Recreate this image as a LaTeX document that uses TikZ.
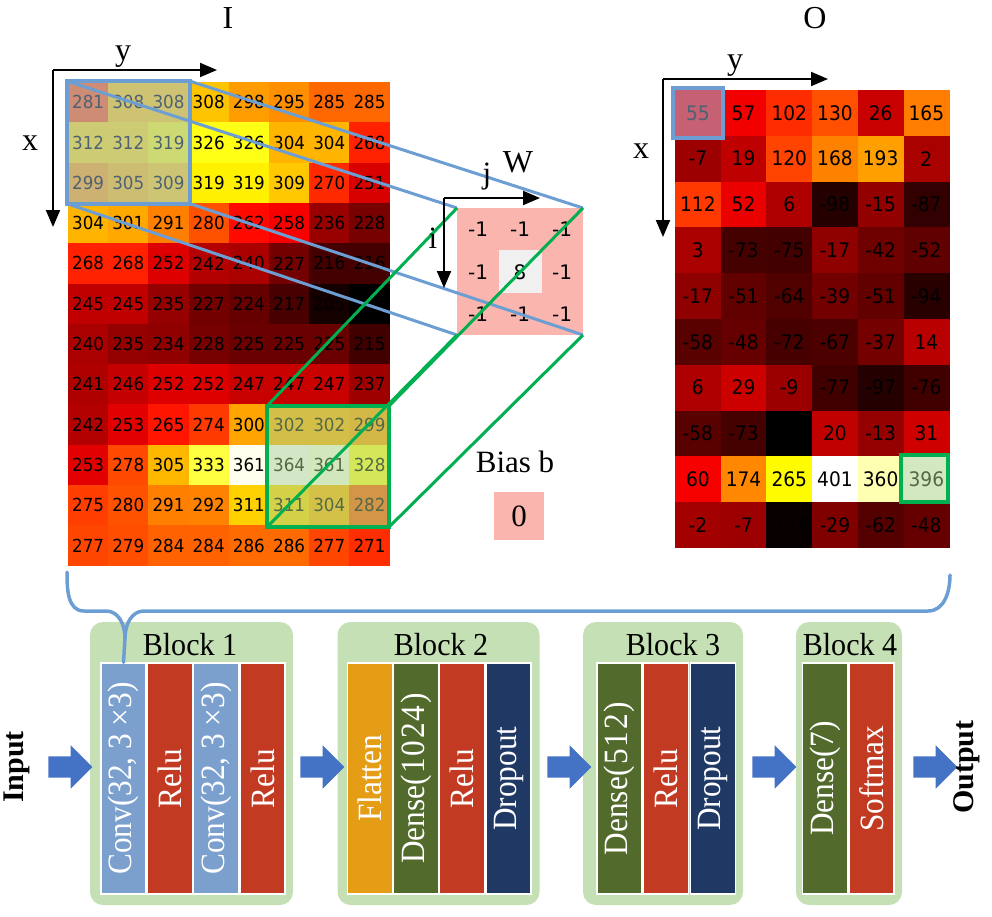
\documentclass[tikz,border=0pt]{standalone}
\usepackage{graphicx}
\usepackage{fontspec}
\setmainfont{Liberation Serif}
\newfontfamily\numfont{DejaVu Sans}
\usetikzlibrary{arrows.meta,shapes.arrows}
\definecolor{lblue}{RGB}{108,158,212}
\definecolor{ovblue}{RGB}{157,195,230}
\definecolor{lgreen}{RGB}{0,176,80}
\definecolor{ovgreen}{RGB}{169,209,142}
\definecolor{wpink}{RGB}{249,181,174}
\definecolor{wgray}{RGB}{240,240,240}
\definecolor{blockbg}{RGB}{197,224,180}
\definecolor{convc}{RGB}{124,160,206}
\definecolor{reluc}{RGB}{194,58,34}
\definecolor{flatc}{RGB}{228,157,20}
\definecolor{densec}{RGB}{82,106,44}
\definecolor{dropc}{RGB}{31,56,100}
\definecolor{arrowc}{RGB}{68,114,196}
\newcommand\hotcolor[3]{%
 \pgfmathsetmacro\hotT{max(0,min(1,((#1)-(#2))/((#3)-(#2))))}%
 \pgfmathsetmacro\hotR{min(1,\hotT/0.365079)}%
 \pgfmathsetmacro\hotG{max(0,min(1,(\hotT-0.365079)/0.380953))}%
 \pgfmathsetmacro\hotB{max(0,min(1,(\hotT-0.746032)/0.253968))}%
 \definecolor{hc}{rgb}{\hotR,\hotG,\hotB}}
\newcommand\lyr[1]{\scalebox{0.92}[1]{#1}}
\newcommand\nsq[1]{\scalebox{0.93}[1]{#1}}
\newcommand\tsq[1]{\scalebox{0.94}[1]{#1}}
\begin{document}
\begin{tikzpicture}[x=1pt,y=-1pt,
  numI/.style={font=\numfont\fontsize{18}{18}\selectfont, inner sep=0pt},
  numO/.style={font=\numfont\fontsize{20}{20}\selectfont, inner sep=0pt},
  numW/.style={font=\numfont\fontsize{20}{20}\selectfont, inner sep=0pt},
  lbl/.style={font=\fontsize{32}{32}\selectfont, inner sep=0pt, anchor=base},
  slbl/.style={font=\fontsize{31}{31}\selectfont, inner sep=0pt, anchor=base},
  axisarrow/.style={line width=2pt, -{Triangle[length=17pt,width=14pt]}},
  bline/.style={draw=lblue, line width=3pt},
  gline/.style={draw=lgreen, line width=3pt},
  selbox/.style={inner sep=0pt, outer sep=0pt, line width=4pt, fill opacity=0.5, anchor=north west},
  blockbox/.style={fill=blockbg, rounded corners=13pt, inner sep=0pt, outer sep=0pt, anchor=north west, minimum height=283pt},
  layer/.style={draw=white, line width=1.2pt, rotate=90, minimum width=231pt, minimum height=45pt, inner sep=0pt, text=white, font=\fontsize{34}{34}\selectfont},
  btitle/.style={font=\fontsize{32}{32}\selectfont, inner sep=0pt, anchor=base},
  barrow/.style={single arrow, single arrow head extend=11pt, single arrow head indent=0pt, minimum height=44pt, inner xsep=0pt, inner ysep=10.5pt, fill=arrowc, draw=none},
  brace/.style={draw=lblue, line width=3.5pt, line cap=round}
]
\useasboundingbox (0,0) rectangle (992,916);

% ---------- matrix I ----------
\foreach \rowvals [count=\r from 0] in {
 {281,308,308,308,298,295,285,285},
 {312,312,319,326,326,304,304,268},
 {299,305,309,319,319,309,270,251},
 {304,301,291,280,262,258,236,228},
 {268,268,252,242,240,227,216,216},
 {245,245,235,227,224,217,205,190},
 {240,235,234,228,225,225,225,215},
 {241,246,252,252,247,247,247,237},
 {242,253,265,274,300,302,302,299},
 {253,278,305,333,361,364,361,328},
 {275,280,291,292,311,311,304,282},
 {277,279,284,284,286,286,277,271}} {
  \foreach \v [count=\c from 0] in \rowvals {
    \hotcolor{\v}{200}{364}
    \fill[hc] ({68+\c*40.2},{82+\r*40.3}) rectangle ++(40.6,40.7);
    \ifnum\v<200\relax\else
      \node[numI] (I-\r-\c) at ({68+(\c+0.5)*40.2},{82+(\r+0.5)*40.3}) {\nsq{\v}};
    \fi
  }
}

% ---------- matrix O ----------
\foreach \rowvals [count=\r from 0] in {
 {55,57,102,130,26,165},
 {-7,19,120,168,193,2},
 {112,52,6,-98,-15,-87},
 {3,-73,-75,-17,-42,-52},
 {-17,-51,-64,-39,-51,-94},
 {-58,-48,-72,-67,-37,14},
 {6,29,-9,-77,-97,-76},
 {-58,-73,-125,20,-13,31},
 {60,174,265,401,360,396},
 {-2,-7,-119,-29,-62,-48}} {
  \foreach \v [count=\c from 0] in \rowvals {
    \hotcolor{\v}{-125}{401}
    \fill[hc] ({675+\c*45.7},{90+\r*45.8}) rectangle ++(46.1,46.2);
    \node[numO] (O-\r-\c) at ({675+(\c+0.5)*45.7},{90+(\r+0.5)*45.8}) {\nsq{\v}};
  }
}

% selection boxes
\node[selbox, draw=lblue, fill=ovblue, minimum width=123pt, minimum height=122.5pt] (bI) at (66.5,81) {};
\node[selbox, draw=lgreen, fill=ovgreen, minimum width=122pt, minimum height=121pt] (gI) at (267,406) {};
\node[selbox, draw=lblue, fill=ovblue, minimum width=50pt, minimum height=50pt] (bO) at (673,88) {};
\node[selbox, draw=lgreen, fill=ovgreen, minimum width=47pt, minimum height=47pt] (gO) at (901,455) {};

% ---------- kernel W ----------
\node[fill=wpink, inner sep=0pt, outer sep=0pt, minimum width=126pt, minimum height=127pt, anchor=north west] (W) at (457,208) {};
\node[fill=wgray, inner sep=0pt, minimum width=43pt, minimum height=43pt] (Wc) at (520.5,271.5) {};
\foreach \wv [count=\k from 0] in {-1,-1,-1,-1,8,-1,-1,-1,-1} {
  \pgfmathtruncatemacro\wr{int(\k/3)}
  \pgfmathtruncatemacro\wc{mod(\k,3)}
  \node[numW] (W-\k) at ({478+\wc*42},{229.5+\wr*42.3}) {\wv};
}

% connector lines
\draw[bline] (bI.north west) -- (W.north west);
\draw[bline] (bI.north east) -- (W.north east);
\draw[bline] (bI.south west) -- (W.south west);
\draw[bline] (bI.south east) -- (W.south east);
\draw[gline] (gI.north west) -- (W.north west);
\draw[gline] (gI.north east) -- (W.north east);
\draw[gline] (gI.south west) -- (W.south west);
\draw[gline] (gI.south east) -- (W.south east);

% axes
\coordinate (Io) at (53,70); \coordinate (Iy) at (217,70); \coordinate (Ix) at (53,227);
\draw[axisarrow] (Io) -- (Iy);
\draw[axisarrow] (Io) -- (Ix);
\coordinate (Oo) at (663,79); \coordinate (Oy) at (828,79); \coordinate (Ox) at (663,237);
\draw[axisarrow] (Oo) -- (Oy);
\draw[axisarrow] (Oo) -- (Ox);
\coordinate (Wo) at (444,198); \coordinate (Wj) at (540,198); \coordinate (Wi) at (444,288);
\draw[axisarrow] (Wo) -- (Wj);
\draw[axisarrow] (Wo) -- (Wi);

% labels
\node[lbl] (labI) at (228,28) {I};
\node[lbl] (labIy) at (123,60) {y};
\node[lbl] (labIx) at (30,150) {x};
\node[lbl] (labO) at (815,28) {O};
\node[lbl] (labOy) at (735,69) {y};
\node[lbl] (labOx) at (641,158) {x};
\node[lbl] (labW) at (518,172) {W};
\node[slbl] (labj) at (487,183) {j};
\node[slbl] (labi) at (433,248) {i};
\node[slbl] (labb) at (515,472) {Bias b};
\node[fill=wpink, inner sep=0pt, minimum width=50pt, minimum height=48pt, font=\fontsize{31}{31}\selectfont] (bias) at (519,516) {0};

% ---------- blocks ----------
\node[blockbox, minimum width=203pt] (B1) at (90,622) {};
\node[blockbox, minimum width=202pt] (B2) at (337.5,622) {};
\node[blockbox, minimum width=160pt] (B3) at (583,622) {};
\node[blockbox, minimum width=106pt] (B4) at (796,622) {};

\node[btitle] (T1) at (190,655) {\tsq{Block 1}};
\node[btitle] (T2) at (441,655) {\tsq{Block 2}};
\node[btitle] (T3) at (673,655) {\tsq{Block 3}};
\node[btitle] (T4) at (850,655) {\tsq{Block 4}};

\node[layer, fill=convc] (L11) at (123.5,778.5) {\lyr{Conv(32, 3 ×3)}};
\node[layer, fill=reluc] (L12) at (169.8,778.5) {\lyr{Relu}};
\node[layer, fill=convc] (L13) at (216.1,778.5) {\lyr{Conv(32, 3 ×3)}};
\node[layer, fill=reluc] (L14) at (262.4,778.5) {\lyr{Relu}};

\node[layer, fill=flatc] (L21) at (369.8,778.5) {\lyr{Flatten}};
\node[layer, fill=densec] (L22) at (416,778.5) {\lyr{Dense(\kern2pt1\kern2pt0\kern2pt2\kern2pt4\kern2pt)}};
\node[layer, fill=reluc] (L23) at (462,778.5) {\lyr{Relu}};
\node[layer, fill=dropc] (L24) at (508.5,778.5) {\lyr{Dropout}};

\node[layer, fill=densec] (L31) at (619.5,778.5) {\lyr{Dense(\kern2pt5\kern2pt1\kern2pt2\kern2pt)}};
\node[layer, fill=reluc] (L32) at (666,778.5) {\lyr{Relu}};
\node[layer, fill=dropc] (L33) at (713,778.5) {\lyr{Dropout}};

\node[layer, fill=densec] (L41) at (825,778.5) {\lyr{Dense(7)}};
\node[layer, fill=reluc] (L42) at (871.5,778.5) {\lyr{Softmax}};

% ---------- brace ----------
\coordinate (brL) at (67,572);
\coordinate (brR) at (950,575);
\draw[brace] (brL) to[out=-90,in=180] (84,611) -- (106,611) to[out=0,in=90] (125,638) -- (L11.east);
\draw[brace] (125,638) to[out=90,in=180] (144,611) -- (928,611) to[out=0,in=-90] (brR);

% block arrows
\node[barrow] (A0) at (65,767) {};
\node[barrow] (A1) at (317,767) {};
\node[barrow] (A2) at (564,767) {};
\node[barrow] (A3) at (769,767) {};
\node[barrow] (A4) at (930,767) {};

\node[rotate=90, font=\bfseries\fontsize{30}{30}\selectfont, inner sep=0pt] (inp) at (17,767) {Input};
\node[rotate=90, font=\bfseries\fontsize{30}{30}\selectfont, inner sep=0pt] (outp) at (967,767) {Output};
\end{tikzpicture}
\end{document}
